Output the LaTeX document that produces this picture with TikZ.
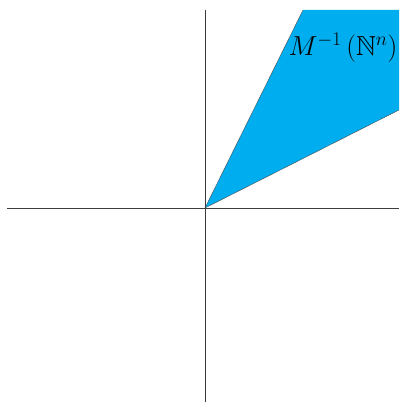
\documentclass[tikz,border=0pt]{standalone}
\usepackage{fix-cm}
\usepackage{amssymb}
\definecolor{regioncol}{RGB}{0,174,239}
\definecolor{axiscol}{RGB}{60,60,60}
\begin{document}
\begin{tikzpicture}[x=1pt,y=-1pt,
  axisline/.style={draw=axiscol,line width=1pt},
  region/.style={fill=regioncol,draw=none},
  ray/.style={draw=black!70,line width=0.4pt}]
\useasboundingbox (0,0) rectangle (399,403);
\coordinate (O) at (205,208);
\coordinate (T) at (303,10);
\coordinate (TR) at (399,10);
\coordinate (R) at (399,110);
\fill[region] (O) -- (T) -- (TR) -- (R) -- cycle;
\draw[ray] (O) -- (T);
\draw[ray] (O) -- (R);
\coordinate (xl) at (7,208);
\coordinate (xr) at (399,208);
\coordinate (yt) at (205,10);
\coordinate (yb) at (205,402);
\draw[axisline] (xl) -- (xr);
\draw[axisline] (yt) -- (yb);
\node[font=\fontsize{27.5}{32}\selectfont] (lab) at (343,48) {$M^{-1}\,(\mathbb{N}^n)$};
\end{tikzpicture}
\end{document}
